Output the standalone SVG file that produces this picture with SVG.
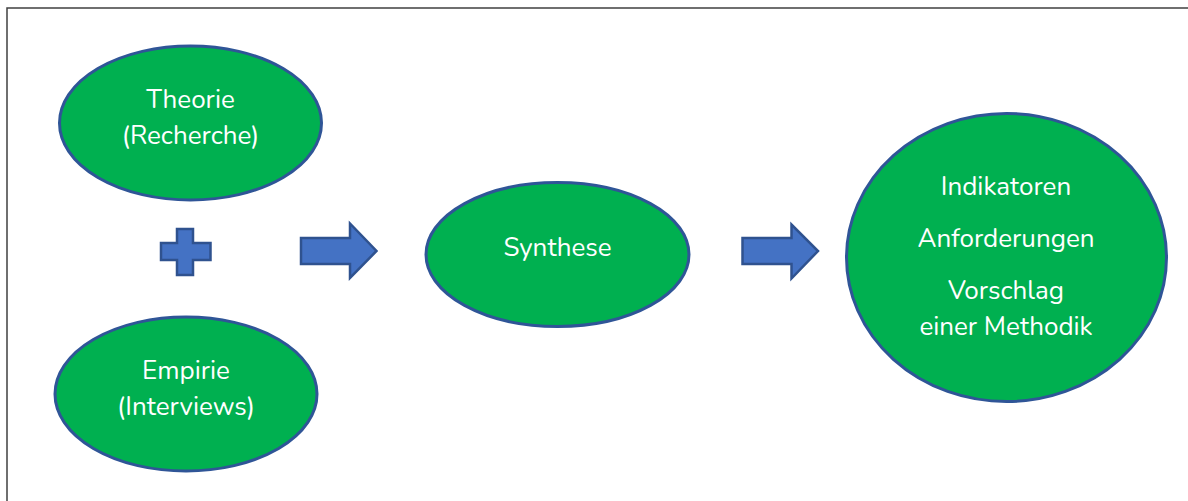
<svg xmlns="http://www.w3.org/2000/svg" width="1188" height="501" viewBox="0 0 1188 501">
<style>
.node{fill:#00B050;stroke:#2F5597;stroke-width:3}
.lbl{fill:#ffffff;font-family:"Nunito","Open Sans","Liberation Sans",sans-serif;font-size:26px;text-anchor:middle}
.shape{fill:#4472C4;stroke:#2F528F;stroke-width:2.5;stroke-linejoin:miter}
</style>
<rect x="0" y="0" width="1188" height="501" fill="#ffffff"/>
<path d="M7,501 V8 H1188" fill="none" stroke="#404040" stroke-width="1.5"/>
<g id="theorie">
<ellipse class="node" cx="190.5" cy="123" rx="131" ry="77"/>
<text class="lbl" x="190.5" y="108">Theorie</text>
<text class="lbl" x="190.5" y="144">(Recherche)</text>
</g>
<g id="plus">
<path class="shape" d="M177,229 H193 V243 H210.5 V260 H193 V275 H177 V260 H161 V243 H177 Z"/>
</g>
<g id="empirie">
<ellipse class="node" cx="186" cy="394" rx="131" ry="77"/>
<text class="lbl" x="186" y="379">Empirie</text>
<text class="lbl" x="186" y="415">(Interviews)</text>
</g>
<g id="synthese">
<ellipse class="node" cx="557.5" cy="254.5" rx="131.5" ry="72"/>
<text class="lbl" x="557.5" y="256">Synthese</text>
</g>
<g id="ergebnis">
<ellipse class="node" cx="1006.5" cy="257.5" rx="160" ry="144"/>
<text class="lbl" x="1006" y="195">Indikatoren</text>
<text class="lbl" x="1006" y="247">Anforderungen</text>
<text class="lbl" x="1006" y="299">Vorschlag</text>
<text class="lbl" x="1006" y="335">einer Methodik</text>
</g>
<g id="connectors">
<path class="shape" d="M301,238 H350 V223.5 L376.5,251 L350,278 V264 H301 Z"/>
<path class="shape" d="M742.5,238 H791.5 V224.5 L818,251 L791.5,278.5 V264 H742.5 Z"/>
</g>
</svg>
